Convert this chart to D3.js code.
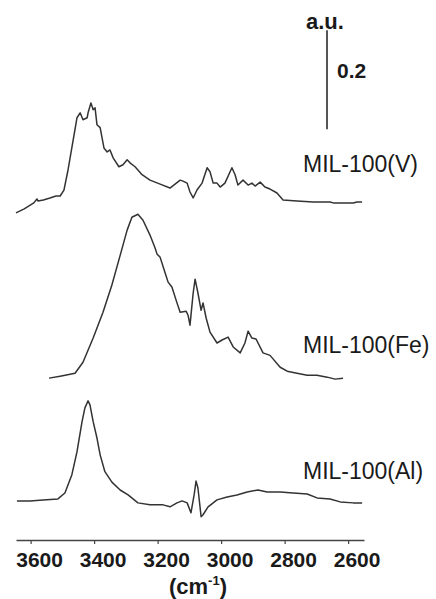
<!DOCTYPE html>
<html>
<head>
<meta charset="utf-8">
<script src="https://cdn.jsdelivr.net/npm/d3@7"></script>
<style>
	html, body { margin: 0; padding: 0; background: #fff; }
	svg { display: block; font-family: 'Liberation Sans', Arial, sans-serif; }
</style>
</head>
<body>
<svg class="chart"></svg>
<script>
const WIDTH = 436
const HEIGHT = 599

const seriesNames = ['MIL-100(V)', 'MIL-100(Fe)', 'MIL-100(Al)']
// vertical stacking offsets, in a.u.
const seriesOffsets = [0.681, 0.327, 0.075]
const xTicks = [3600, 3400, 3200, 3000, 2800, 2600]
const scaleBar = [0.83, 1.03]

// [wavenumber cm-1, absorbance a.u.]
const spectrumV = [
	[3646, -0.020], [3620, -0.012], [3600, -0.004], [3590, 0.000], [3580, 0.008],
	[3577, 0.004], [3560, 0.006], [3539, 0.010], [3520, 0.014], [3507, 0.014],
	[3495, 0.026], [3482, 0.067], [3466, 0.127], [3454, 0.172], [3444, 0.182],
	[3435, 0.168], [3422, 0.172], [3419, 0.182], [3410, 0.202], [3403, 0.188],
	[3397, 0.192], [3391, 0.158], [3381, 0.152], [3369, 0.111], [3359, 0.103],
	[3350, 0.107], [3340, 0.091], [3322, 0.073], [3309, 0.077], [3296, 0.087],
	[3287, 0.081], [3271, 0.073], [3249, 0.057], [3224, 0.046], [3192, 0.038],
	[3161, 0.030], [3129, 0.046], [3120, 0.044], [3107, 0.040], [3098, 0.022],
	[3088, 0.010], [3076, 0.026], [3060, 0.040], [3044, 0.071], [3035, 0.063],
	[3025, 0.040], [3013, 0.040], [3003, 0.032], [2988, 0.040], [2966, 0.071],
	[2956, 0.057], [2947, 0.036], [2931, 0.046], [2915, 0.036], [2903, 0.040],
	[2893, 0.034], [2877, 0.042], [2862, 0.032], [2846, 0.028], [2824, 0.020],
	[2805, 0.006], [2761, 0.004], [2710, 0.002], [2657, 0.002], [2647, 0.000],
	[2584, 0.000], [2572, 0.002], [2556, 0.002],
]

const spectrumFe = [
	[3542, 0.000], [3507, 0.004], [3460, 0.010], [3435, 0.032], [3403, 0.081],
	[3372, 0.133], [3344, 0.188], [3318, 0.248], [3296, 0.299], [3281, 0.325],
	[3262, 0.331], [3246, 0.319], [3224, 0.289], [3208, 0.263], [3202, 0.251],
	[3192, 0.244], [3177, 0.214], [3167, 0.194], [3155, 0.184], [3139, 0.152],
	[3129, 0.133], [3110, 0.135], [3104, 0.127], [3098, 0.107], [3088, 0.172],
	[3082, 0.200], [3073, 0.172], [3063, 0.137], [3057, 0.152], [3047, 0.121],
	[3035, 0.093], [3013, 0.071], [2997, 0.077], [2978, 0.083], [2962, 0.063],
	[2940, 0.051], [2925, 0.071], [2915, 0.095], [2903, 0.081], [2890, 0.079],
	[2868, 0.051], [2846, 0.046], [2814, 0.022], [2792, 0.014], [2761, 0.010],
	[2729, 0.006], [2698, 0.006], [2666, 0.002], [2641, -0.002], [2616, 0.000],
]

const spectrumAl = [
	[3643, 0.004], [3602, 0.004], [3561, 0.006], [3514, 0.008], [3492, 0.020],
	[3470, 0.057], [3454, 0.103], [3438, 0.164], [3429, 0.192], [3419, 0.206],
	[3413, 0.198], [3403, 0.164], [3391, 0.131], [3381, 0.097], [3366, 0.063],
	[3344, 0.042], [3318, 0.026], [3293, 0.016], [3262, 0.000], [3224, -0.004],
	[3183, -0.004], [3161, -0.008], [3139, 0.000], [3123, 0.004], [3107, 0.000],
	[3095, -0.020], [3085, 0.016], [3079, 0.044], [3073, 0.030], [3063, -0.028],
	[3057, -0.024], [3041, -0.008], [3013, 0.006], [2981, 0.012], [2950, 0.016],
	[2918, 0.022], [2884, 0.026], [2855, 0.022], [2814, 0.022], [2773, 0.020],
	[2729, 0.018], [2698, 0.010], [2657, 0.008], [2625, 0.002], [2584, 0.000],
	[2556, 0.000],
]

const spectra = [spectrumV, spectrumFe, spectrumAl]

const svg = d3.select('.chart')
	.attr('width', WIDTH)
	.attr('height', HEIGHT)

const axisY = 540

const x = d3.scaleLinear()
	.domain([3646, 2550])
	.range([16, 364])

const y = d3.scaleLinear()
	.domain([0, axisY / 495])
	.range([axisY, 0])

const line = d3.line()
	.x(d => x(d[0]))
	.y(d => y(d[1]))

function drawSpectra() {
	svg.selectAll('.spectrum')
		.data(spectra)
		.join('path')
			.attr('class', 'spectrum')
			.attr('fill', 'none')
			.attr('stroke', '#333')
			.attr('stroke-width', 1.5)
			.attr('stroke-linejoin', 'round')
			.attr('d', (d, i) => line(d.map(p => [p[0], p[1] + seriesOffsets[i]])))

	const labelY = [172, 353, 479]
	svg.selectAll('.series-label')
		.data(seriesNames)
		.join('text')
			.attr('class', 'series-label')
			.attr('x', 303)
			.attr('y', (d, i) => labelY[i])
			.style('font-size', '23px')
			.style('fill', '#1a1a1a')
			.text(d => d)
}

function drawAxis() {
	const axis = d3.axisBottom(x)
		.tickValues(xTicks)
		.tickSize(4)
		.tickSizeOuter(0)
		.tickFormat(d3.format('d'))

	const g = svg.append('g')
		.attr('transform', `translate(0,${axisY})`)
		.call(axis)

	g.select('.domain')
		.attr('stroke', '#444')
		.attr('stroke-width', 1.6)
	g.selectAll('.tick line')
		.attr('stroke', '#444')
		.attr('stroke-width', 1.2)
	g.selectAll('.tick text')
		.attr('y', 27)
		.attr('dy', null)
		.attr('dx', 8.5)
		.style('font-size', '21px')
		.style('font-weight', 'bold')
		.style('font-family', "'Liberation Sans', Arial, sans-serif")
		.style('fill', '#1a1a1a')

	const unit = svg.append('text')
		.attr('x', 198)
		.attr('y', 594)
		.attr('text-anchor', 'middle')
		.style('font-size', '22px')
		.style('font-weight', 'bold')
		.style('fill', '#1a1a1a')
	unit.append('tspan').text('(cm')
	unit.append('tspan')
		.attr('dy', -9)
		.style('font-size', '13px')
		.text('-1')
	unit.append('tspan')
		.attr('dy', 9)
		.text(')')
}

function drawScaleBar() {
	svg.append('line')
		.attr('x1', 327)
		.attr('x2', 327)
		.attr('y1', y(scaleBar[0]))
		.attr('y2', y(scaleBar[1]))
		.attr('stroke', '#2b2b2b')
		.attr('stroke-width', 1.6)

	svg.append('text')
		.attr('x', 306)
		.attr('y', 29)
		.style('font-size', '22px')
		.style('font-weight', 'bold')
		.style('fill', '#1a1a1a')
		.text('a.u.')

	svg.append('text')
		.attr('x', 337)
		.attr('y', 78)
		.style('font-size', '21px')
		.style('font-weight', 'bold')
		.style('fill', '#1a1a1a')
		.text(d3.format('.1f')(scaleBar[1] - scaleBar[0]))
}

drawSpectra()
drawAxis()
drawScaleBar()
</script>
</body>
</html>
